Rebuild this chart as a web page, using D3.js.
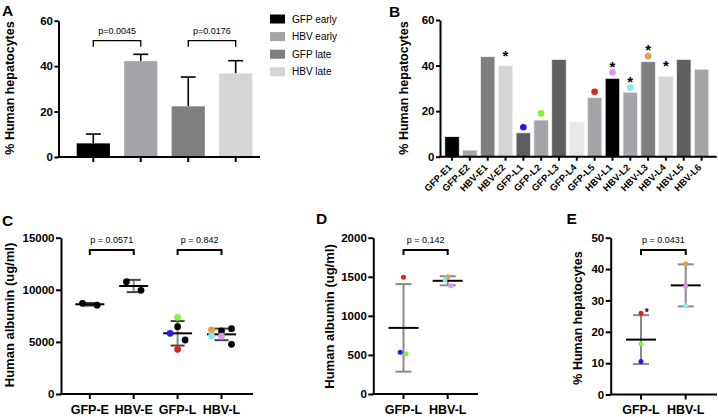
<!DOCTYPE html>
<html><head><meta charset="utf-8">
<script src="https://cdn.jsdelivr.net/npm/d3@7"></script>
<style>
body{margin:0;background:#fff}
svg{display:block}
</style>
</head><body>
<svg id="chart" width="718" height="417"></svg>
<script>
// ---------------- DATA ----------------
// Panel A
const groupsA = ["GFP early", "HBV early", "GFP late", "HBV late"];
const meansA = [6.0, 42.2, 22.3, 36.8];
const upperErrA = [4.1, 3.0, 12.9, 5.6];
const pvalsA = ["p=0.0045", "p=0.0176"];
const ticksA = [0, 20, 40, 60];

// Panel B
const miceB = ["GFP-E1","GFP-E2","HBV-E1","HBV-E2","GFP-L1","GFP-L2","GFP-L3","GFP-L4","GFP-L5","HBV-L1","HBV-L2","HBV-L3","HBV-L4","HBV-L5","HBV-L6"];
const pctB = [8.8, 2.9, 43.9, 39.9, 10.5, 16.1, 42.7, 15.2, 25.9, 34.4, 28.3, 41.7, 35.3, 42.7, 38.4];
const dotMiceB = ["GFP-L1","GFP-L2","GFP-L5","HBV-L1","HBV-L2","HBV-L3"];
const dotPctB = [12.9, 19.0, 28.5, 37.0, 30.3, 44.2];
const starredB = ["HBV-E2","HBV-L1","HBV-L2","HBV-L3","HBV-L4"];
const ticksB = [0, 20, 40, 60];

// Panel C
const groupsC = ["GFP-E", "HBV-E", "GFP-L", "HBV-L"];
const albuminC = [
  [8700, 8520],
  [10780, 9950],
  [7360, 6460, 5825, 5180, 4290],
  [6140, 6046, 6270, 5566, 5550, 4770]
];
const miceC = [
  ["", ""],
  ["", ""],
  ["GFP-L2", "", "GFP-L1", "", "GFP-L5"],
  ["HBV-L3", "", "", "HBV-L2", "HBV-L1", ""]
];
const pvalsC = ["p = 0.0571", "p = 0.842"];
const ticksC = [0, 5000, 10000, 15000];

// Panel D
const groupsD = ["GFP-L", "HBV-L"];
const albuminD = [[1493, 533, 512], [1501, 1459, 1386]];
const miceD = [["GFP-L5", "GFP-L1", "GFP-L2"], ["HBV-L3", "HBV-L2", "HBV-L1"]];
const pvalD = "p = 0.142";
const ticksD = [0, 500, 1000, 1500, 2000];

// Panel E
const groupsE = ["GFP-L", "HBV-L"];
const pctE = [[25.9, 16.1, 10.5], [41.7, 34.4, 28.3]];
const miceE = [["GFP-L5", "GFP-L2", "GFP-L1"], ["HBV-L3", "HBV-L1", "HBV-L2"]];
const starredE = ["GFP-L5"];
const pvalE = "p = 0.0431";
const ticksE = [0, 10, 20, 30, 40, 50];

// ---------------- STYLE ----------------
const FONT = '"Liberation Sans", Arial, Helvetica, sans-serif';
const colA = ["#000000", "#a4a4a9", "#7f7f7f", "#d5d5d5"];
const colB = ["#000000","#a4a4a9","#7f7f7f","#d5d5d5","#5f5f5f","#a4a4a9","#5f5f5f","#e8e8e8","#a4a4a9","#000000","#a4a4a9","#7f7f7f","#d5d5d5","#5f5f5f","#a4a4a9"];
const mouseColor = {
  "GFP-L1": "#2417f5", "GFP-L2": "#84f23c", "GFP-L5": "#d9211f",
  "HBV-L1": "#e393f0", "HBV-L2": "#7eeef2", "HBV-L3": "#e1a04a"
};
const dotCol = m => mouseColor[m] || "#000";

const svg = d3.select("#chart");

// ---------------- HELPERS ----------------
function yAxis(y, x, ticks, fs, tickLen, fmt) {
  const ax = d3.axisLeft(y).tickValues(ticks).tickSize(tickLen).tickSizeOuter(0).tickPadding(1.5)
    .tickFormat(fmt || d3.format("d"));
  const g = svg.append("g").attr("transform", `translate(${x},0)`).call(ax);
  g.select(".domain").attr("stroke", "#000").attr("stroke-width", 2);
  g.selectAll(".tick line").attr("stroke", "#000").attr("stroke-width", 2);
  g.selectAll(".tick text").attr("font-family", FONT).attr("font-size", fs)
    .attr("font-weight", "bold").attr("fill", "#000");
  return g;
}
function xAxisLine(x0, x1, y0, centers, tickLen) {
  svg.append("line").attr("x1", x0 - 1).attr("x2", x1).attr("y1", y0).attr("y2", y0)
    .attr("stroke", "#000").attr("stroke-width", 2);
  svg.append("g").selectAll("line").data(centers).join("line")
    .attr("x1", d => d).attr("x2", d => d).attr("y1", y0).attr("y2", y0 + tickLen)
    .attr("stroke", "#000").attr("stroke-width", 2);
}
function label(txt, x, y, fs, opts = {}) {
  const t = svg.append("text").attr("x", x).attr("y", y).text(txt)
    .attr("font-family", FONT).attr("font-size", fs).attr("fill", "#000")
    .attr("font-weight", opts.bold === false ? "normal" : "bold")
    .attr("text-anchor", opts.anchor || "start");
  if (opts.rotate) t.attr("transform", `rotate(${opts.rotate},${x},${y})`);
  return t;
}
function yTitle(txt, cx, cy, fs) {
  svg.append("text").attr("transform", `translate(${cx},${cy}) rotate(-90)`)
    .attr("text-anchor", "middle").attr("dy", "0.35em").text(txt)
    .attr("font-family", FONT).attr("font-size", fs).attr("font-weight", "bold").attr("fill", "#000");
}
function bracket(x1, x2, y, h, txt, fs, sw) {
  svg.append("path").attr("d", `M${x1},${y + h}V${y}H${x2}V${y + h}`)
    .attr("fill", "none").attr("stroke", "#000").attr("stroke-width", sw);
  label(txt, (x1 + x2) / 2, y - 7, fs, { bold: false, anchor: "middle" });
}
function meanSD(x, y, vals, halfMean, halfCap, capCol) {
  const m = d3.mean(vals), s = d3.deviation(vals);
  svg.append("line").attr("x1", x).attr("x2", x).attr("y1", y(m + s)).attr("y2", y(m - s))
    .attr("stroke", "#8a8a8a").attr("stroke-width", 2);
  [m + s, m - s].forEach(v => svg.append("line").attr("x1", x - halfCap).attr("x2", x + halfCap)
    .attr("y1", y(v)).attr("y2", y(v)).attr("stroke", capCol).attr("stroke-width", 2));
  svg.append("line").attr("x1", x - halfMean).attr("x2", x + halfMean)
    .attr("y1", y(m)).attr("y2", y(m)).attr("stroke", "#000").attr("stroke-width", 2);
}

// ---------------- PANEL A ----------------
{
  const y = d3.scaleLinear().domain([0, 60]).range([157, 20.7]);
  const x = d3.scaleBand().domain(groupsA).range([67.2, 261.8]).paddingInner(0.3).paddingOuter(0.2);
  const cx = d => x(d) + x.bandwidth() / 2;
  groupsA.forEach((g, i) => {
    const top = y(meansA[i] + upperErrA[i]);
    svg.append("line").attr("x1", cx(g)).attr("x2", cx(g)).attr("y1", y(meansA[i])).attr("y2", top)
      .attr("stroke", "#000").attr("stroke-width", 1.6);
    svg.append("line").attr("x1", cx(g) - 7.5).attr("x2", cx(g) + 7.5).attr("y1", top).attr("y2", top)
      .attr("stroke", "#000").attr("stroke-width", 1.6);
  });
  svg.append("g").selectAll("rect").data(groupsA).join("rect")
    .attr("x", d => x(d)).attr("width", x.bandwidth())
    .attr("y", (d, i) => y(meansA[i])).attr("height", (d, i) => y(0) - y(meansA[i]))
    .attr("fill", (d, i) => colA[i]);
  yAxis(y, 58.5, ticksA, 11.5, 4);
  xAxisLine(58.5, 260, y(0), groupsA.map(cx), 5);
  bracket(cx(groupsA[0]), cx(groupsA[1]), 40.7, 6, pvalsA[0], 9, 1.3);
  bracket(cx(groupsA[2]), cx(groupsA[3]), 40.7, 6, pvalsA[1], 9, 1.3);
  yTitle("% Human hepatocytes", 9.5, 88, 12.5);
  label("A", 2, 16, 15.5);
  const lg = svg.append("g");
  groupsA.forEach((g, i) => {
    const cy = 19 + i * 17.6;
    lg.append("rect").attr("x", 270).attr("y", cy - 4.5).attr("width", 15).attr("height", 9).attr("fill", colA[i]);
    lg.append("text").attr("x", 292).attr("y", cy + 3.6).text(g)
      .attr("font-family", FONT).attr("font-size", 10).attr("fill", "#000");
  });
}

// ---------------- PANEL B ----------------
{
  const y = d3.scaleLinear().domain([0, 60]).range([156.7, 20]);
  const x = d3.scaleBand().domain(miceB).range([443, 710.6]).paddingInner(0.186).paddingOuter(0.1);
  const cx = d => x(d) + x.bandwidth() / 2;
  svg.append("g").selectAll("rect").data(miceB).join("rect")
    .attr("x", d => x(d)).attr("width", x.bandwidth())
    .attr("y", (d, i) => y(pctB[i])).attr("height", (d, i) => y(0) - y(pctB[i]))
    .attr("fill", (d, i) => colB[i]).attr("stroke", "#f2f2f2").attr("stroke-width", 0.8);
  svg.append("g").selectAll("circle").data(dotMiceB).join("circle")
    .attr("cx", d => cx(d)).attr("cy", (d, i) => y(dotPctB[i])).attr("r", 3.3)
    .attr("fill", d => dotCol(d));
  starredB.forEach(m => {
    const i = miceB.indexOf(m), j = dotMiceB.indexOf(m);
    const cyStar = j >= 0 ? y(dotPctB[j]) - 9 : y(pctB[i]) - 13.5;
    label("*", cx(m), cyStar + 8.5, 15, { anchor: "middle" });
  });
  yAxis(y, 440, ticksB, 11.5, 4);
  xAxisLine(440, 716.7, y(0), miceB.map(cx), 4);
  miceB.forEach(m => label(m, cx(m) + 0.5, 168, 9.5, { anchor: "end", rotate: -45 }));
  yTitle("% Human hepatocytes", 404, 88, 12.5);
  label("B", 389, 17, 15.5);
}

// ---------------- PANEL C ----------------
{
  const y = d3.scaleLinear().domain([0, 15000]).range([394, 237.7]);
  const x = d3.scalePoint().domain(groupsC).range([89.8, 221.5]);
  const jitter = [[-7.3, 7.3], [-7.3, 7.3], [0, 0, -7.5, 7.5, 0], [-10, 0, 10, -10, 0, 10]];
  groupsC.forEach((g, i) => meanSD(x(g), y, albuminC[i], 14.5, 7, "#444"));
  groupsC.forEach((g, i) => {
    svg.append("g").selectAll("circle").data(albuminC[i]).join("circle")
      .attr("cx", (d, k) => x(g) + jitter[i][k]).attr("cy", d => y(d)).attr("r", 3.4)
      .attr("fill", (d, k) => dotCol(miceC[i][k]));
  });
  yAxis(y, 61, ticksC, 11.5, 5);
  xAxisLine(61, 253, y(0), groupsC.map(g => x(g)), 5);
  groupsC.forEach(g => label(g, x(g), 414, 12.5, { anchor: "middle" }));
  bracket(x(groupsC[0]), x(groupsC[1]), 250, 5, pvalsC[0], 9, 2);
  bracket(x(groupsC[2]), x(groupsC[3]), 250, 5, pvalsC[1], 9, 2);
  yTitle("Human albumin (ug/ml)", 9.5, 315, 13);
  label("C", 2, 225.5, 15.5);
}

// ---------------- PANEL D ----------------
{
  const y = d3.scaleLinear().domain([0, 2000]).range([394, 237.7]);
  const x = d3.scalePoint().domain(groupsD).range([403.5, 447.7]);
  const jitter = [[0, -3.3, 2.7], [0, -2.7, 3]];
  groupsD.forEach((g, i) => meanSD(x(g), y, albuminD[i], 15, 8, "#8a8a8a"));
  groupsD.forEach((g, i) => {
    svg.append("g").selectAll("circle").data(albuminD[i]).join("circle")
      .attr("cx", (d, k) => x(g) + jitter[i][k]).attr("cy", d => y(d)).attr("r", 2.5)
      .attr("fill", (d, k) => dotCol(miceD[i][k]));
  });
  yAxis(y, 373.3, ticksD, 11.5, 5);
  xAxisLine(373.3, 478, y(0), groupsD.map(g => x(g)), 5);
  groupsD.forEach(g => label(g, x(g), 413.5, 12.5, { anchor: "middle" }));
  bracket(x(groupsD[0]), x(groupsD[1]), 250, 5, pvalD, 9, 2);
  yTitle("Human albumin (ug/ml)", 329, 316.5, 13);
  label("D", 316, 224, 15.5);
}

// ---------------- PANEL E ----------------
{
  const y = d3.scaleLinear().domain([0, 50]).range([394.5, 237.7]);
  const x = d3.scalePoint().domain(groupsE).range([641, 685.7]);
  groupsE.forEach((g, i) => meanSD(x(g), y, pctE[i], 15, 8, "#8a8a8a"));
  groupsE.forEach((g, i) => {
    svg.append("g").selectAll("circle").data(pctE[i]).join("circle")
      .attr("cx", x(g)).attr("cy", d => y(d)).attr("r", 2.5)
      .attr("fill", (d, k) => dotCol(miceE[i][k]));
    miceE[i].forEach((m, k) => {
      if (starredE.includes(m)) label("*", x(g) + 5.7, y(pctE[i][k]) + 3, 10, { anchor: "middle" });
    });
  });
  yAxis(y, 610.7, ticksE, 11.5, 5);
  xAxisLine(610.7, 717, y(0), groupsE.map(g => x(g)), 5);
  groupsE.forEach(g => label(g, x(g), 413.5, 12.5, { anchor: "middle" }));
  bracket(x(groupsE[0]), x(groupsE[1]), 250, 5, pvalE, 9, 2);
  yTitle("% Human hepatocytes", 577.5, 318, 12.5);
  label("E", 566.5, 224, 15.5);
}
</script>
</body></html>
